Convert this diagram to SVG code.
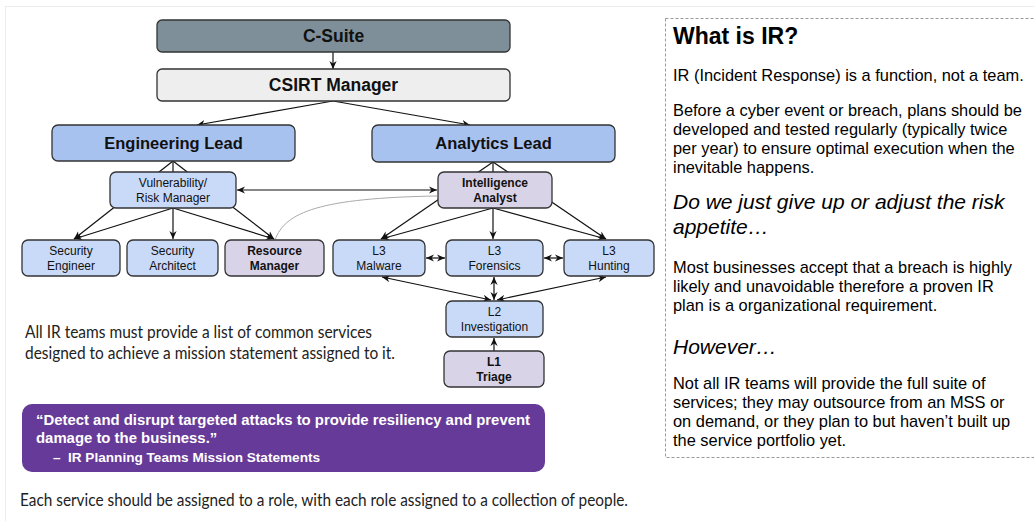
<svg xmlns="http://www.w3.org/2000/svg" width="1034" height="521" viewBox="0 0 1034 521">
<defs>
<marker id="ah" viewBox="0 0 10 10" refX="10" refY="5" markerWidth="8" markerHeight="8" markerUnits="userSpaceOnUse" orient="auto-start-reverse">
<path d="M0,0.5 L10,5 L0,9.5 L3,5 z" fill="#111"/>
</marker>
</defs>
<style>
.n{stroke:#333;stroke-width:1.3}
.gray{fill:#7e8f99}
.light{fill:#eeeeee}
.lead{fill:#a8c2f0}
.blue{fill:#c9daf8}
.purp{fill:#d9d3e8}
.t{font-family:"Liberation Sans",Arial,sans-serif;fill:#111;text-anchor:middle}
.b{font-weight:bold}
.s12{font-size:12px}
.c{stroke:#111;stroke-width:1.2;fill:none}
.a{marker-end:url(#ah)}
.d{marker-start:url(#ah);marker-end:url(#ah)}
.p{font-family:"Liberation Sans",Arial,sans-serif;fill:#000;font-size:16.4px}
.pi{font-family:"Liberation Sans",Arial,sans-serif;fill:#000;font-size:21px;font-style:italic}
.cap{font-family:Lato,"Open Sans",sans-serif;fill:#222;font-size:17px}
.m{font-family:"Liberation Sans",Arial,sans-serif;fill:#fff;font-weight:bold}
</style>
<rect x="5.5" y="6.5" width="1100" height="600" fill="#fff" stroke="#ededed" stroke-width="1"/>

<g id="connectors">
<path class="c a" d="M333,52 L333,69"/>
<path class="c a" d="M333,101 L197,125"/>
<path class="c a" d="M333,101 L470,125"/>
<path class="c" d="M173,161 L173,172"/>
<path class="c a" d="M173,161 L74,239"/>
<path class="c a" d="M173,161 L274,239"/>
<path class="c a" d="M173,208 L74,239"/>
<path class="c a" d="M173,208 L173,239"/>
<path class="c a" d="M173,208 L274,239"/>
<path class="c" d="M493,162 L493,172"/>
<path class="c a" d="M493,162 L381,239"/>
<path class="c a" d="M493,162 L606,239"/>
<path class="c a" d="M493,208 L381,239"/>
<path class="c a" d="M493,208 L493,239"/>
<path class="c a" d="M493,208 L606,239"/>
<path class="c d" d="M237,190 L437,190"/>
<path class="c d" d="M426,258 L445,258"/>
<path class="c d" d="M544,258 L563,258"/>
<path class="c d" d="M494,277 L494,300"/>
<path class="c d" d="M382,277 L491,300"/>
<path class="c d" d="M606,277 L497,300"/>
<path class="c a" d="M494,351 L494,338"/>
<path d="M275,240 C285,212 320,198 437,196" fill="none" stroke="#aaa" stroke-width="1"/>
</g>

<g id="csuite"><rect class="n gray" x="157" y="20" width="353" height="32" rx="5"/><text class="t b" x="333.5" y="42" font-size="17.5">C-Suite</text></g>
<g id="csirt"><rect class="n light" x="157" y="69" width="353" height="32" rx="5"/><text class="t b" x="333.5" y="91" font-size="17.5">CSIRT Manager</text></g>
<g id="englead"><rect class="n lead" x="52" y="125" width="243" height="36" rx="6"/><text class="t b" x="173.5" y="149" font-size="16.5">Engineering Lead</text></g>
<g id="analead"><rect class="n lead" x="372" y="125" width="243" height="37" rx="6"/><text class="t b" x="493.5" y="149" font-size="16.5">Analytics Lead</text></g>
<g id="vuln"><rect class="n blue" x="110" y="172" width="126" height="36" rx="6"/><text class="t s12" x="173" y="187">Vulnerability/</text><text class="t s12" x="173" y="202">Risk Manager</text></g>
<g id="intel"><rect class="n purp" x="438" y="172" width="114" height="36" rx="6"/><text class="t s12 b" x="495" y="187">Intelligence</text><text class="t s12 b" x="495" y="202">Analyst</text></g>
<g id="seceng"><rect class="n blue" x="22" y="240" width="98" height="36" rx="6"/><text class="t s12" x="71" y="255">Security</text><text class="t s12" x="71" y="270">Engineer</text></g>
<g id="secarch"><rect class="n blue" x="127" y="240" width="91" height="36" rx="6"/><text class="t s12" x="172.5" y="255">Security</text><text class="t s12" x="172.5" y="270">Architect</text></g>
<g id="resmgr"><rect class="n purp" x="225" y="240" width="99" height="36" rx="6"/><text class="t s12 b" x="274.5" y="255">Resource</text><text class="t s12 b" x="274.5" y="270">Manager</text></g>
<g id="malware"><rect class="n blue" x="333" y="240" width="92" height="36" rx="6"/><text class="t s12" x="379" y="255">L3</text><text class="t s12" x="379" y="270">Malware</text></g>
<g id="forensics"><rect class="n blue" x="446" y="240" width="97" height="36" rx="6"/><text class="t s12" x="494.5" y="255">L3</text><text class="t s12" x="494.5" y="270">Forensics</text></g>
<g id="hunting"><rect class="n blue" x="564" y="240" width="90" height="36" rx="6"/><text class="t s12" x="609" y="255">L3</text><text class="t s12" x="609" y="270">Hunting</text></g>
<g id="l2"><rect class="n blue" x="446" y="301" width="97" height="36" rx="6"/><text class="t s12" x="494.5" y="316">L2</text><text class="t s12" x="494.5" y="331">Investigation</text></g>
<g id="l1"><rect class="n purp" x="444" y="351" width="100" height="36" rx="6"/><text class="t s12 b" x="494" y="366">L1</text><text class="t s12 b" x="494" y="381">Triage</text></g>

<g id="caption">
<text class="cap" x="25" y="338" textLength="347" lengthAdjust="spacingAndGlyphs">All IR teams must provide a list of common services</text>
<text class="cap" x="25" y="359" textLength="370" lengthAdjust="spacingAndGlyphs">designed to achieve a mission statement assigned to it.</text>
</g>

<g id="mission">
<rect x="22" y="404" width="523" height="68" rx="10" fill="#663a98"/>
<text class="m" x="36" y="425" font-size="14.9">“Detect and disrupt targeted attacks to provide resiliency and prevent</text>
<text class="m" x="36" y="443" font-size="14.9">damage to the business.”</text>
<text class="m" x="53" y="462" font-size="13.6">–<tspan x="68">IR Planning Teams Mission Statements</tspan></text>
</g>

<text class="cap" x="20" y="506" textLength="608" lengthAdjust="spacingAndGlyphs">Each service should be assigned to a role, with each role assigned to a collection of people.</text>

<g id="whatisir">
<rect x="665.5" y="18.5" width="400" height="439" fill="none" stroke="#9a9a9a" stroke-width="1" stroke-dasharray="3,2"/>
<text x="673" y="44" font-family="Liberation Sans, Arial, sans-serif" font-weight="bold" font-size="23" fill="#000">What is IR?</text>
<text class="p" x="673" y="81">IR (Incident Response) is a function, not a team.</text>
<text class="p" x="673" y="116">Before a cyber event or breach, plans should be</text>
<text class="p" x="673" y="135">developed and tested regularly (typically twice</text>
<text class="p" x="673" y="154">per year) to ensure optimal execution when the</text>
<text class="p" x="673" y="173">inevitable happens.</text>
<text class="pi" x="673" y="209">Do we just give up or adjust the risk</text>
<text class="pi" x="673" y="234">appetite…</text>
<text class="p" x="673" y="273">Most businesses accept that a breach is highly</text>
<text class="p" x="673" y="292">likely and unavoidable therefore a proven IR</text>
<text class="p" x="673" y="311">plan is a organizational requirement.</text>
<text class="pi" x="673" y="354">However…</text>
<text class="p" x="673" y="389">Not all IR teams will provide the full suite of</text>
<text class="p" x="673" y="408">services; they may outsource from an MSS or</text>
<text class="p" x="673" y="427">on demand, or they plan to but haven’t built up</text>
<text class="p" x="673" y="446">the service portfolio yet.</text>
</g>
</svg>
